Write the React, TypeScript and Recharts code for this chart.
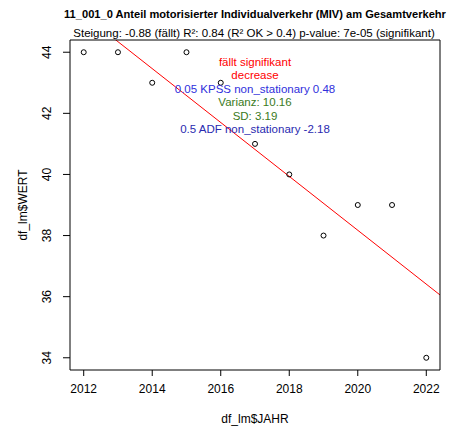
import {
  ComposedChart,
  Scatter,
  XAxis,
  YAxis,
  ReferenceLine,
  ReferenceDot,
} from 'recharts'

const jahre = [2012, 2013, 2014, 2015, 2016, 2017, 2018, 2019, 2020, 2021, 2022]
const werte = [44, 44, 43, 44, 43, 41, 40, 38, 39, 39, 34]
const xTicks = [2012, 2014, 2016, 2018, 2020, 2022]
const yTicks = [34, 36, 38, 40, 42, 44]

const titel = '11_001_0 Anteil motorisierter Individualverkehr (MIV) am Gesamtverkehr'
const untertitel =
  'Steigung: -0.88 (fällt) R²: 0.84 (R² OK > 0.4) p-value: 7e-05 (signifikant)'

const infoZeilen = [
  { text: 'fällt signifikant', color: '#ff0000' },
  { text: 'decrease', color: '#ff0000' },
  { text: '0.05 KPSS non_stationary 0.48', color: '#2f2fdc' },
  { text: 'Varianz: 10.16', color: '#3a7a1c' },
  { text: 'SD: 3.19', color: '#3a7a1c' },
  { text: '0.5 ADF non_stationary -2.18', color: '#2a2ab0' },
]

const data = jahre.map((jahr, i) => ({ jahr, wert: werte[i] }))

// lineare Regression (lm)
const n = jahre.length
const mx = jahre.reduce((a, b) => a + b, 0) / n
const my = werte.reduce((a, b) => a + b, 0) / n
let sxy = 0
let sxx = 0
jahre.forEach((x, i) => {
  sxy += (x - mx) * (werte[i] - my)
  sxx += (x - mx) * (x - mx)
})
const slope = sxy / sxx
const fit = (x: number) => my + slope * (x - mx)

// R-Achsen: 4% Erweiterung
const xDomain: [number, number] = [2011.6, 2022.4]
const yDomain: [number, number] = [33.6, 44.4]

const font = 'Liberation Sans, Arial, sans-serif'

const Kreis = (props: any) => {
  const { cx, cy } = props
  return <circle cx={cx} cy={cy} r={2.5} fill="none" stroke="#000" strokeWidth={1} />
}

const YTick = (props: any) => {
  const { x, y, payload } = props
  return (
    <text
      x={x - 10}
      y={y}
      transform={`rotate(-90 ${x - 10} ${y})`}
      textAnchor="middle"
      fontSize={12}
      fill="#000"
      fontFamily={font}
    >
      {payload.value}
    </text>
  )
}

const InfoLabel = (props: any) => {
  const { viewBox } = props
  const cx = viewBox.x + (viewBox.width || 0) / 2
  const top = viewBox.y
  return (
    <g>
      {infoZeilen.map((z, i) => (
        <text
          key={i}
          x={cx}
          y={top + 26 + i * 13.4}
          textAnchor="middle"
          fontSize={11.5}
          fontFamily={font}
          fill={z.color}
        >
          {z.text}
        </text>
      ))}
    </g>
  )
}

export default function App() {
  return (
    <div style={{ position: 'absolute', left: 0, top: 0, width: 457, height: 427, background: '#fff' }}>
      <svg
        width={457}
        height={40}
        style={{ position: 'absolute', left: 0, top: 0 }}
      >
        <text x={255} y={18} textAnchor="middle" fontSize={11.1} fontWeight="bold" fontFamily={font}>
          {titel}
        </text>
        <text x={254} y={37} textAnchor="middle" fontSize={11.5} fontFamily={font}>
          {untertitel}
        </text>
      </svg>
      <ComposedChart
        width={457}
        height={427}
        data={data}
        margin={{ top: 40, right: 17, bottom: 0, left: 0 }}
        style={{ position: 'absolute', left: 0, top: 0 }}
      >
        <XAxis
          dataKey="jahr"
          type="number"
          domain={xDomain}
          ticks={xTicks}
          allowDataOverflow
          height={57}
          axisLine={false}
          tickSize={6}
          tickLine={{ stroke: '#000' }}
          tick={{ fill: '#000', fontSize: 12, fontFamily: font }}
          tickMargin={8}
          label={{
            value: 'df_lm$JAHR',
            position: 'insideBottom',
            offset: 4,
            fill: '#000',
            fontSize: 12,
            fontFamily: font,
          }}
        />
        <YAxis
          dataKey="wert"
          type="number"
          domain={yDomain}
          ticks={yTicks}
          allowDataOverflow
          width={70}
          axisLine={false}
          tickSize={7}
          tickLine={{ stroke: '#000' }}
          tick={<YTick />}
          label={{
            value: 'df_lm$WERT',
            angle: -90,
            position: 'insideLeft',
            offset: 23,
            fill: '#000',
            fontSize: 12,
            fontFamily: font,
            style: { textAnchor: 'middle' },
          }}
        />
        <ReferenceLine
          segment={[
            { x: xDomain[0], y: fit(xDomain[0]) },
            { x: xDomain[1], y: fit(xDomain[1]) },
          ]}
          stroke="#ff0000"
          strokeWidth={1}
          ifOverflow="hidden"
        />
        <Scatter dataKey="wert" shape={<Kreis />} isAnimationActive={false} />
        <ReferenceDot
          x={2017}
          y={yDomain[1]}
          r={0}
          ifOverflow="visible"
          label={<InfoLabel />}
        />
        {/* Rahmen (box) */}
        <ReferenceLine x={xDomain[0]} stroke="#000" ifOverflow="visible" />
        <ReferenceLine x={xDomain[1]} stroke="#000" ifOverflow="visible" />
        <ReferenceLine y={yDomain[0]} stroke="#000" ifOverflow="visible" />
        <ReferenceLine y={yDomain[1]} stroke="#000" ifOverflow="visible" />
      </ComposedChart>
    </div>
  )
}
